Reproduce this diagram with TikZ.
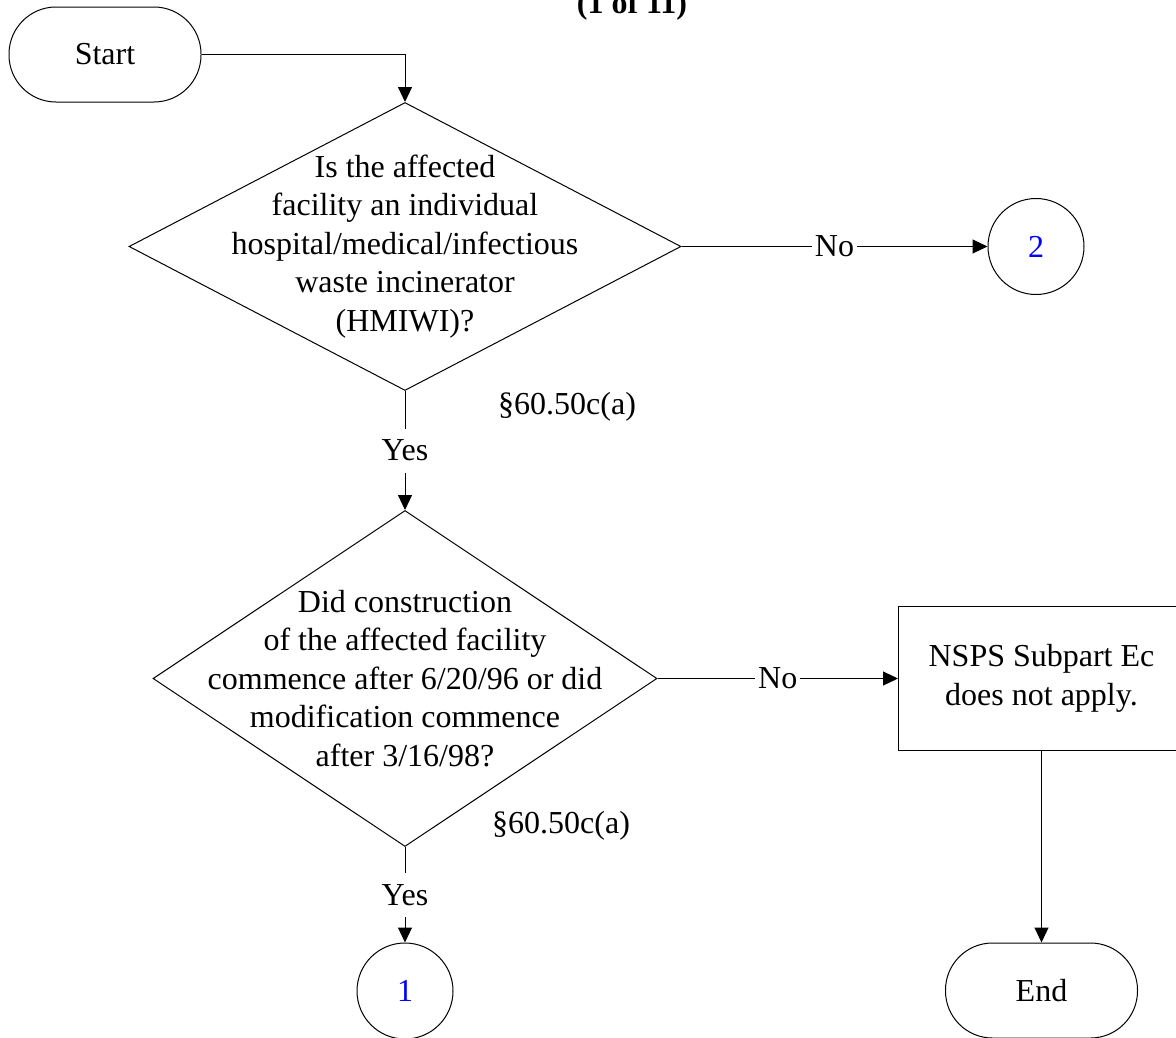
\documentclass[tikz,border=0pt]{standalone}
\usepackage{fontspec}
\setmainfont{Liberation Serif}
\usetikzlibrary{shapes.geometric,arrows.meta}
\begin{document}
\begin{tikzpicture}[x=1pt,y=-1pt,
  every node/.style={font=\fontsize{32pt}{38.4pt}\selectfont, inner sep=0pt},
  line/.style={line width=1pt, draw=black},
  arr/.style={line, -{Triangle[length=15pt,width=14pt]}},
  terminal/.style={draw, line width=1pt, rectangle, rounded corners=47pt, minimum width=192pt, minimum height=95pt},
  decision/.style={draw, line width=1pt, diamond},
  qtext/.style={align=center},
  connector/.style={draw, line width=1pt, circle, minimum size=96pt, text=blue},
  process/.style={draw, line width=1pt, rectangle, minimum width=286pt, minimum height=144pt, align=center},
  yeslbl/.style={fill=white, inner xsep=3pt, minimum height=44pt},
  nolbl/.style={fill=white, inner xsep=3pt},
  ref/.style={anchor=west}
]
\useasboundingbox (0,0) rectangle (1176,1037);

\node[font=\bfseries\fontsize{32pt}{38.4pt}\selectfont, anchor=base] (title) at (632,13) {(1 of 11)};

\node[terminal] (start) at (105,54.5) {Start};

\node[decision, minimum width=552pt, minimum height=288pt] (d1) at (405,246.5) {};
\node[qtext] (q1) at (d1.center) {Is the affected\\facility an individual\\hospital/medical/infectious\\waste incinerator\\(HMIWI)?};

\node[connector] (c2) at (1036,246.5) {2};

\node[ref] (r1) at (498,407) {\S60.50c(a)};

\node[decision, minimum width=504pt, minimum height=336pt] (d2) at (405,678.5) {};
\node[qtext] (q2) at (d2.center) {Did construction\\of the affected facility\\commence after 6/20/96 or did\\modification commence\\after 3/16/98?};

\node[process] (box) at (1041.5,678.5) {NSPS Subpart Ec\\does not apply.};

\node[ref] (r2) at (492,826) {\S60.50c(a)};

\node[connector] (c1) at (405,991) {1};

\node[terminal] (end) at (1041.5,990.5) {End};

\draw[arr] (start.east) -| (d1.north);
\draw[arr] (d1.east) -- node[nolbl] {No} (c2.west);
\draw[arr] (d1.south) -- node[yeslbl] {Yes} (d2.north);
\draw[arr] (d2.east) -- node[nolbl] {No} (box.west);
\draw[arr] (d2.south) -- node[yeslbl] {Yes} (c1.north);
\draw[arr] (box.south) -- (end.north);
\end{tikzpicture}
\end{document}
